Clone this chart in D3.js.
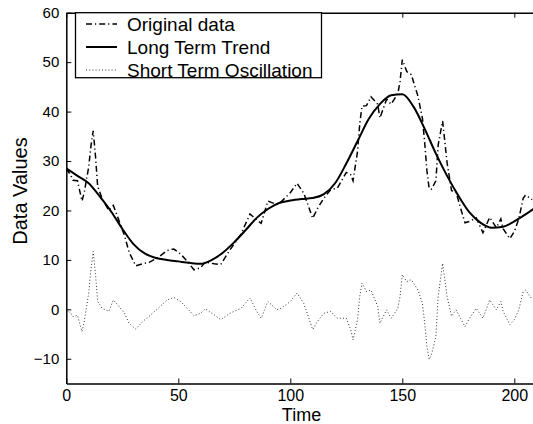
<!DOCTYPE html>
<head>
<meta charset="utf-8">
<title></title>
<style>
body { margin: 0; background: #fff; }
text { font-family: "Liberation Sans", Arial, Helvetica, sans-serif; fill: #000; }
.axis path, .axis line { stroke: #000; }
</style>
</head>
<body>
<script src="https://cdn.jsdelivr.net/npm/d3@7"></script>
<script>

// long term trend, read every 5 time steps
var trendTime = [0,5,10,15,20,25,30,35,40,45,50,55,60,65,70,75,80,85,90,95,100,105,
  110,115,120,125,130,135,140,145,150,155,160,165,170,175,180,185,190,195,200,205,210];
var trendValues = [28.5,27.0,25.5,22.8,19.8,16.3,13.2,11.3,10.4,10.0,9.7,9.4,9.2,10.0,
  11.5,13.6,16.0,18.5,20.3,21.5,22.0,22.3,22.5,23.3,25.5,29.5,34.0,38.5,41.5,43.3,43.5,
  41.0,36.5,31.5,27.0,23.0,19.6,17.5,16.5,16.7,17.8,19.2,20.8];

// original data and short term oscillation, read at the turning points
var sampleTime = [0,2,3,5,7,8,10,11,12,13,14,16,19,21,23,26,28,31,34,37,41,45,48,51,54,
  57,60,62,66,69,73,78,82,85,87,90,94,96,100,103,106,108,110,112,115,118,121,125,127,128,
  130,131,132,134,136,139,140,143,145,148,149,150,152,154,157,159,160,161,162,163,165,166,
  168,170,172,174,176,178,180,183,186,189,192,194,195,198,200,202,204,205,208];
var originalValues = [28.5,27.1,26.1,26.0,21.9,23.6,28.8,33.0,36.1,31.2,24.9,22.4,20.0,
  21.0,18.6,14.9,11.6,8.8,9.2,9.5,10.5,11.9,12.2,11.2,9.7,8.0,8.4,9.6,9.2,9.1,12.0,15.2,
  19.3,18.1,17.4,21.9,21.2,21.8,23.6,25.5,23.5,21.0,18.4,20.3,22.5,24.2,24.5,27.7,27.2,
  26.0,31.9,37.5,41.1,41.2,43.0,41.5,38.7,42.5,41.5,43.6,46.1,50.5,48.1,47.5,43.1,38.6,
  33.7,28.0,24.4,24.3,26.0,33.2,38.1,29.6,24.0,23.7,20.5,17.5,17.8,18.5,15.5,18.6,16.5,
  18.3,16.3,14.3,15.7,18.3,22.5,23.1,22.2];
var oscillationValues = [0.0,-0.8,-1.5,-1.2,-4.5,-2.5,3.3,8.0,11.7,7.3,1.6,0.2,-0.4,1.9,
  0.9,-0.8,-2.8,-4.0,-2.5,-1.4,0.2,1.9,2.4,1.6,0.2,-1.3,-0.8,0.1,-1.1,-2.1,-0.8,0.2,2.3,
  -0.4,-1.8,1.6,-0.1,0.2,1.6,3.3,1.2,-1.4,-4.1,-2.5,-0.8,-0.4,-1.8,-1.8,-4.1,-6.2,-2.1,
  2.6,5.3,3.6,3.9,0.6,-2.8,-0.1,-1.8,0.2,2.6,7.0,5.6,6.0,3.9,1.2,-2.8,-7.5,-10.1,-9.2,
  -5.5,2.6,9.3,2.6,-1.4,-0.1,-1.8,-3.5,-1.8,0.2,-1.8,1.9,-0.1,1.6,-0.4,-3.1,-2.1,-0.1,
  3.6,3.9,2.0];

var xTicks = [0, 50, 100, 150, 200];
var yTicks = [-10, 0, 10, 20, 30, 40, 50, 60];
var legendLabels = ["Original data", "Long Term Trend", "Short Term Oscillation"];

var width = 533, height = 424;
var m = {left: 66.3, top: 12.7, bottom: 383.5, right: 536.7};

var svg = d3.select("body").append("svg")
    .attr("width", width)
    .attr("height", height);

var x = d3.scaleLinear().domain([0, 210]).range([m.left, m.right]);
var y = d3.scaleLinear().domain([-15, 60]).range([m.bottom, m.top]);

svg.append("defs").append("clipPath").attr("id", "plot")
  .append("rect")
    .attr("x", m.left).attr("y", m.top)
    .attr("width", m.right - m.left).attr("height", m.bottom - m.top);

var plot = svg.append("g").attr("clip-path", "url(#plot)");

var lineOf = function(times, curve) {
  return d3.line()
      .x(function(d, i) { return x(times[i]); })
      .y(function(d) { return y(d); })
      .curve(curve);
};

// dotted oscillation
plot.append("path")
    .datum(oscillationValues)
    .attr("fill", "none")
    .attr("stroke", "#333")
    .attr("stroke-width", 1)
    .attr("stroke-dasharray", "1,2.2")
    .attr("d", lineOf(sampleTime, d3.curveLinear));

// dash-dot original
plot.append("path")
    .datum(originalValues)
    .attr("fill", "none")
    .attr("stroke", "#000")
    .attr("stroke-width", 1.5)
    .attr("stroke-dasharray", "6,3,1.2,3")
    .attr("d", lineOf(sampleTime, d3.curveLinear));

// solid trend
plot.append("path")
    .datum(trendValues)
    .attr("fill", "none")
    .attr("stroke", "#000")
    .attr("stroke-width", 2)
    .attr("d", lineOf(trendTime, d3.curveMonotoneX));

// axes, MATLAB style: ticks inside
svg.append("g")
    .attr("class", "axis")
    .attr("transform", "translate(0," + m.bottom + ")")
    .call(d3.axisBottom(x).tickValues(xTicks).tickSizeInner(-5).tickSizeOuter(0).tickPadding(6))
    .call(function(g) { g.selectAll("text").style("font-size", "16px"); g.select(".domain").attr("stroke-width", 1.5); });

svg.append("g")
    .attr("class", "axis")
    .attr("transform", "translate(0," + m.top + ")")
    .call(d3.axisTop(x).tickValues(xTicks).tickSizeInner(-5).tickSizeOuter(0).tickFormat(""))
    .call(function(g) { g.select(".domain").attr("stroke-width", 1.5); });

svg.append("g")
    .attr("class", "axis")
    .attr("transform", "translate(" + m.left + ",0)")
    .call(d3.axisLeft(y).tickValues(yTicks).tickSizeInner(-5).tickSizeOuter(0).tickPadding(7)
      .tickFormat(function(d) { return d < 0 ? "\u2212" + Math.abs(d) : d; }))
    .call(function(g) { g.selectAll("text").style("font-size", "15px"); g.select(".domain").attr("stroke-width", 1.5); });

svg.append("text")
    .attr("x", (m.left + m.right) / 2)
    .attr("y", 421)
    .attr("text-anchor", "middle")
    .style("font-size", "18px")
    .text("Time");

svg.append("text")
    .attr("transform", "translate(27,191) rotate(-90)")
    .attr("text-anchor", "middle")
    .style("font-size", "20px")
    .text("Data Values");

// legend
var legend = svg.append("g");
legend.append("rect")
    .attr("x", 75.5).attr("y", m.top)
    .attr("width", 246).attr("height", 65)
    .attr("fill", "#fff")
    .attr("stroke", "#000")
    .attr("stroke-width", 1.3);

var styles = [
  {w: 1.5, dash: "6,3,1.2,3", c: "#000"},
  {w: 2, dash: null, c: "#000"},
  {w: 1, dash: "1,2.2", c: "#333"}
];

legendLabels.forEach(function(label, i) {
  var ly = 24 + i * 23;
  legend.append("line")
      .attr("x1", 86).attr("x2", 117)
      .attr("y1", ly).attr("y2", ly)
      .attr("stroke", styles[i].c)
      .attr("stroke-width", styles[i].w)
      .attr("stroke-dasharray", styles[i].dash);
  legend.append("text")
      .attr("x", 127).attr("y", ly + 6.5)
      .style("font-size", "19px")
      .text(label);
});

</script>
</body>
</html>
